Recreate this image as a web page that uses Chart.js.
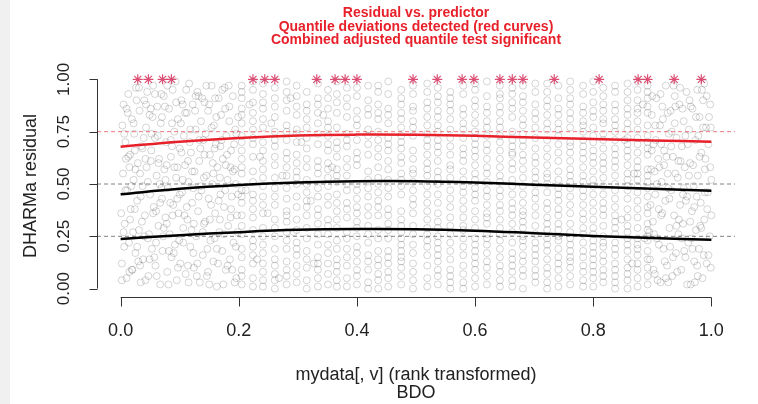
<!DOCTYPE html>
<html>
<head>
<meta charset="utf-8">
<script src="https://cdn.jsdelivr.net/npm/chart.js@4.4.1/dist/chart.umd.min.js"></script>
<style>
  html, body { margin: 0; padding: 0; }
  body { width: 758px; height: 404px; background: linear-gradient(to right, #f0f0f0 10px, #ffffff 10px); }
  canvas { display: block; }
</style>
</head>
<body>
<canvas id="chart" width="758" height="404"></canvas>
<script>
// tick labels
const xTicks = [0, 0.2, 0.4, 0.6, 0.8, 1.0];
const xTickLabels = ['0.0', '0.2', '0.4', '0.6', '0.8', '1.0'];
const yTicks = [0, 0.25, 0.5, 0.75, 1.0];
const yTickLabels = ['0.00', '0.25', '0.50', '0.75', '1.00'];

// fitted quantile curves
const curveX = [0, 0.1, 0.2, 0.3, 0.4, 0.5, 0.6, 0.7, 0.8, 0.9, 1.0];
const q25 = [0.237, 0.255, 0.270, 0.281, 0.285, 0.284, 0.277, 0.265, 0.252, 0.242, 0.233];
const q50 = [0.451, 0.477, 0.495, 0.507, 0.513, 0.513, 0.507, 0.497, 0.487, 0.477, 0.468];
const q75 = [0.678, 0.702, 0.720, 0.732, 0.736, 0.735, 0.730, 0.722, 0.715, 0.708, 0.702];
const refLines = [0.25, 0.5, 0.75];

// outliers (red stars at residual = 1)
const outlierX = [0.029, 0.047, 0.071, 0.086, 0.224, 0.244, 0.261, 0.332, 0.363, 0.380, 0.400,
  0.495, 0.536, 0.578, 0.598, 0.642, 0.663, 0.681, 0.734, 0.810, 0.876, 0.892, 0.937, 0.983];

// residual cloud, predictor in thousandths, residual in hundredths
const leftCloud = [[2,12],[4,55],[5,88],[7,31],[8,70],[10,5],[11,47],[13,93],[14,22],[16,64],[17,38],[19,81],[20,9],[22,52],[23,74],[25,17],[26,96],[28,42],[29,60],[31,28],[32,85],[34,3],[35,68],[37,49],[38,14],[40,90],[41,35],[43,77],[44,58],[46,24],[47,6],[49,83],[50,45],[52,66],[53,19],[55,97],[56,39],[58,72],[59,11],[61,54],[62,87],[64,30],[65,62],[67,2],[68,79],[70,43],[71,18],[73,92],[74,57],[76,34],[77,70],[79,8],[80,48],[82,86],[83,26],[85,63],[86,15],[88,95],[89,40],[91,75],[92,21],[94,53],[95,4],[97,81],[98,36],[100,67],[101,12],[103,90],[104,46],[106,29],[107,73],[109,59],[110,7],[112,84],[113,33],[115,51],[116,98],[118,20],[119,65],[121,41],[122,88],[124,10],[125,56],[127,76],[128,25],[130,94],[131,37],[133,61],[134,3],[136,80],[137,47],[139,16],[140,71],[142,89],[143,32],[145,54],[146,6],[148,85],[149,43],[151,64],[152,23],[154,97],[155,50],[157,13],[158,78],[160,36],[161,69],[163,1],[164,58],[166,91],[167,27],[169,45],[170,83],[172,18],[173,62],[175,39],[176,96],[178,9],[179,73],[181,52],[182,30],[184,87],[185,14],[187,66],[188,44],[190,92],[191,22],[193,57],[194,76],[196,5],[197,35],[199,82],
  [1,36],[3,78],[6,20],[9,62],[12,84],[15,8],[18,49],[21,27],[24,66],[27,90],[30,13],[33,55],[36,32],[39,72],[42,4],[45,94],[48,26],[51,61],[54,82],[57,15],[60,37],[63,73],[66,50],[69,93],[72,25],[75,87],[78,59],[81,2],[84,41],[87,68],[90,17],[93,99],[96,58],[99,23],[102,79],[105,52],[108,35],[111,95],[114,11],[117,70],[120,28],[123,48],[126,85],[129,6],[132,44],[135,67],[138,91],[141,31],[144,74],[147,19],[150,88],[153,40],[156,60],[159,24],[162,82],[165,12],[168,53],[171,71],[174,2],[177,47],[180,64],[183,97],[186,34],[189,9],[192,69],[195,50],[198,27],
  [2,4],[5,27],[8,47],[10,86],[13,63],[16,33],[19,9],[22,79],[25,57],[28,20],[31,96],[34,44],[37,67],[40,25],[43,88],[46,51],[49,14],[52,74],[55,36],[58,93],[61,6],[64,60],[67,41],[70,82],[73,29],[76,52],[79,97],[82,18],[85,71],[88,35],[91,58],[94,89],[97,10],[100,45],[103,65],[106,22],[109,84],[112,39],[115,3],[118,76],[121,56],[124,31],[127,92],[130,12],[133,71],[136,49],[139,27],[142,64],[145,97],[148,8],[151,33],[154,77],[157,55],[160,91],[163,19],[166,42],[169,68],[172,95],[175,26],[178,59],[181,11],[184,80],[187,38],[190,56],[193,3],[196,74],[199,45],
  [6,74],[15,58],[24,38],[33,11],[42,62],[51,86],[60,22],[69,48],[78,31],[87,79],[96,43],[105,88],[114,61],[123,17],[132,92],[141,53],[150,2],[159,67],[168,33],[177,86],[186,58],[195,20],
  [212,47],[218,88],[231,14],[236,63],[249,36],[255,79],[268,5],[274,54],[288,91],[293,27],[306,70],[322,42],[327,12],[343,83],[358,58]];

const rightCloud = [[896,14],[898,57],[899,83],[901,32],[902,69],[904,7],[905,45],[907,91],[908,24],[910,62],[911,38],[913,78],[914,3],[916,51],[917,87],[919,19],[920,66],[922,42],[923,97],[925,11],[926,55],[928,74],[929,29],[931,85],[932,47],[934,6],[935,63],[937,35],[938,92],[940,17],[941,72],[943,53],[944,26],[946,88],[947,40],[949,9],[950,68],[952,31],[953,80],[955,58],[956,15],[958,94],[959,44],[961,22],[962,76],[964,60],[965,2],[967,37],[968,86],[970,49],[971,13],[973,71],[974,28],[976,95],[977,54],[979,19],[980,82],[982,41],[983,65],[985,5],[986,90],[988,33],[989,57],[991,77],[992,12],[994,46],[995,69],[997,25],[998,88],[1000,52],
  [897,40],[900,92],[903,26],[906,71],[909,4],[912,58],[915,35],[918,81],[921,13],[924,63],[927,48],[930,20],[933,75],[936,97],[939,55],[942,8],[945,33],[948,61],[951,86],[954,18],[957,42],[960,69],[963,90],[966,24],[969,59],[972,3],[975,44],[978,73],[981,30],[984,95],[987,16],[990,62],[993,38],[996,82],[999,10],
  [895,27],[899,66],[902,9],[905,78],[908,50],[911,21],[914,93],[917,36],[920,59],[923,5],[926,84],[929,43],[932,68],[935,15],[938,79],[941,30],[944,61],[947,96],[950,24],[953,48],[956,73],[959,2],[962,54],[965,87],[968,19],[971,39],[974,82],[977,6],[980,63],[983,29],[986,77],[989,46],[992,92],[995,16],[998,58],[1000,35],[904,56],[915,69],[927,3],[939,87],[952,45],[964,32],[976,11],[988,98],[999,77],
  [848,33],[853,71],[866,12],[869,55],[884,88],[887,24]];

// tied predictor values form vertical stripes in the middle
const stripeX = [0.205, 0.224, 0.241, 0.261, 0.281, 0.298, 0.315, 0.334, 0.351, 0.366, 0.383, 0.400,
  0.419, 0.436, 0.453, 0.475, 0.495, 0.519, 0.537, 0.558, 0.580, 0.600, 0.620, 0.642, 0.663, 0.681,
  0.702, 0.722, 0.741, 0.761, 0.783, 0.800, 0.817, 0.837, 0.858, 0.875, 0.892];
const stripeY = [
  [2,9,15,26,30,41,47,55,58,66,73,79,86,91,97, 6,19,35,44,62,70,83,94],
  [5,12,20,23,34,38,45,51,63,69,72,80,84,95, 1,16,28,42,56,76,89,99],
  [1,8,17,21,29,36,44,49,57,61,70,77,89,93,98, 4,12,25,40,53,66,81,86],
  [4,11,14,25,33,40,48,53,59,68,75,82,87,96, 0,7,19,29,44,63,71,91],
  [6,13,19,27,32,37,43,54,62,65,71,78,85,90,99, 2,9,23,35,48,58,75,94],
  [3,7,16,22,28,39,50,56,64,74,76,83,92,97, 11,19,33,44,53,60,70,87],
  [0,10,18,24,35,42,46,52,58,67,72,81,88,94, 4,14,29,39,50,62,77,85],
  [5,9,15,21,31,38,44,55,61,69,79,84,91,98, 1,12,26,35,48,58,74,88],
  [2,12,17,26,33,40,49,53,60,66,73,80,86,95, 7,21,30,44,57,69,77,91],
  [4,8,14,23,29,37,45,51,57,63,70,77,89,93,99, 1,11,19,33,41,54,67,84],
  [1,11,19,27,34,41,47,54,62,68,74,82,87,96, 5,15,24,38,50,58,71,91],
  [6,13,20,25,32,36,43,50,59,65,71,78,85,92, 2,9,17,29,39,47,62,81,96],
  [3,9,16,22,30,39,48,56,64,69,76,83,90,97, 0,13,26,35,44,52,73,86],
  [0,7,14,28,35,42,46,53,58,67,75,81,88,94, 4,11,18,24,39,50,63,71,84,97],
  [5,12,18,24,31,38,44,52,61,66,72,79,86,99, 1,8,15,28,35,48,57,69,83,93],
  [2,10,15,21,27,33,49,55,63,70,77,84,91,95, 6,13,18,24,30,37,45,52,60,67,73,81,88],
  [4,8,17,26,36,40,47,51,57,62,73,80,87,93, 0,12,21,30,43,55,66,77,85,97],
  [1,11,20,23,29,37,45,54,60,68,74,82,89,98, 5,16,26,33,41,49,57,64,71,78,86,94],
  [6,13,19,25,32,41,50,56,65,71,78,85,92,96, 2,9,16,22,29,36,45,53,61,68,75,82,89],
  [3,9,14,22,34,39,43,53,59,64,76,81,88,94, 0,6,18,26,30,47,57,68,72,85,91],
  [0,7,16,28,30,38,46,52,61,67,72,79,86,97, 3,11,20,24,34,42,49,56,64,76,83,93],
  [5,12,18,24,33,42,48,55,63,69,75,83,90,95, 1,9,15,21,29,37,45,52,59,66,72,79,87,98],
  [2,10,21,26,31,36,44,51,58,66,73,80,87,99, 6,13,17,24,34,40,47,55,62,69,77,84,92],
  [4,8,15,23,29,40,47,54,62,70,77,84,91,93, 1,11,19,26,33,37,44,51,58,66,73,80,87,97],
  [1,11,17,27,35,41,49,57,60,65,71,82,89,96, 4,8,14,22,31,38,45,52,64,68,75,86,93],
  [6,13,20,25,32,37,45,53,64,68,74,78,85,92, 0,9,16,23,29,35,41,49,57,61,71,81,89,97],
  [3,9,16,22,30,39,43,50,56,63,72,81,88,98, 6,13,19,26,35,46,53,60,67,77,84,94],
  [0,7,14,24,34,38,46,55,59,67,76,83,90,94, 3,10,18,21,28,31,41,50,53,63,71,79,87,98],
  [5,12,19,28,31,42,48,52,61,69,73,79,86,97, 1,9,15,23,25,35,38,45,56,65,76,83,91],
  [2,10,18,21,27,36,44,51,57,65,70,84,91,95, 6,13,15,24,31,40,48,54,61,68,77,81,88,99],
  [4,8,15,26,33,40,47,54,62,68,75,80,87,93, 1,11,18,22,29,36,44,51,58,65,71,78,84,97],
  [1,11,17,23,29,37,49,56,60,66,77,82,89,99, 5,8,14,20,26,33,41,45,52,63,70,73,85,94],
  [6,13,20,25,35,41,45,53,63,71,74,85,92,96, 3,9,16,22,30,38,49,57,60,67,79,81,88],
  [3,9,16,22,32,39,50,58,64,67,78,81,88,94, 0,6,12,19,26,29,35,43,47,54,61,71,75,85,97],
  [0,7,14,27,30,38,43,52,59,69,72,83,90,98, 4,10,18,21,24,34,47,49,55,63,66,76,79,86,94],
  [5,12,19,24,34,42,46,55,61,65,76,80,86,95, 1,9,16,21,29,38,49,52,58,69,72,84,90,99],
  [2,10,18,28,31,36,48,51,57,70,73,84,91,97, 6,14,23,25,39,44,54,64,67,78,87,94]
];

const RED = '#e8202a';
const FONT = '"Liberation Sans", Arial, sans-serif';

const cloud = [];
leftCloud.concat(rightCloud).forEach(p => cloud.push({ x: p[0] / 1000, y: p[1] / 100 }));
stripeX.forEach((sx, i) => stripeY[i].forEach(v => cloud.push({ x: sx, y: v / 100 })));

const toPts = (xs, ys) => xs.map((x, i) => ({ x: x, y: ys[i] }));

const datasets = [
  {
    data: cloud, showLine: false, order: 9,
    pointStyle: 'circle', pointRadius: 3.5, borderWidth: 1,
    pointBorderColor: 'rgba(0,0,0,0.17)', pointBackgroundColor: 'rgba(0,0,0,0)'
  }
];
refLines.forEach(v => datasets.push({
  data: [{ x: -0.04, y: v }, { x: 1.04, y: v }], showLine: true, order: 6,
  borderColor: v === 0.75 ? 'rgba(232,32,42,0.6)' : 'rgba(90,90,90,0.75)',
  borderWidth: 1, borderDash: [4, 3], pointRadius: 0
}));
[[q25, '#000000'], [q50, '#000000'], [q75, RED]].forEach(c => datasets.push({
  data: toPts(curveX, c[0]), showLine: true, order: 3,
  borderColor: c[1], borderWidth: 2.5, tension: 0.4, pointRadius: 0
}));
datasets.push({
  data: outlierX.map(x => ({ x: x, y: 1 })), showLine: false, order: 1,
  pointStyle: 'star', pointRadius: 5, borderWidth: 1.2,
  pointBorderColor: 'rgba(214,48,92,0.85)'
});

// R-style axes, tick labels and titles
const rAxes = {
  id: 'rAxes',
  afterDraw(chart) {
    const ctx = chart.ctx;
    const xs = chart.scales.x, ys = chart.scales.y;
    const area = chart.chartArea;
    ctx.save();
    ctx.strokeStyle = '#333';
    ctx.lineWidth = 1;
    ctx.fillStyle = '#222';

    // x axis
    const xa = Math.round(area.bottom) + 0.5;
    ctx.beginPath();
    ctx.moveTo(xs.getPixelForValue(xTicks[0]), xa);
    ctx.lineTo(xs.getPixelForValue(xTicks[xTicks.length - 1]), xa);
    xTicks.forEach(t => {
      const px = Math.round(xs.getPixelForValue(t)) + 0.5;
      ctx.moveTo(px, xa);
      ctx.lineTo(px, xa + 9);
    });
    ctx.stroke();
    ctx.font = '18px ' + FONT;
    ctx.textAlign = 'center';
    ctx.textBaseline = 'alphabetic';
    xTicks.forEach((t, i) => ctx.fillText(xTickLabels[i], xs.getPixelForValue(t), 336));

    // y axis
    const ya = Math.round(area.left) + 0.5;
    ctx.beginPath();
    ctx.moveTo(ya, ys.getPixelForValue(yTicks[0]));
    ctx.lineTo(ya, ys.getPixelForValue(yTicks[yTicks.length - 1]));
    yTicks.forEach(t => {
      const py = Math.round(ys.getPixelForValue(t)) + 0.5;
      ctx.moveTo(ya, py);
      ctx.lineTo(ya - 8, py);
    });
    ctx.stroke();
    ctx.font = '17px ' + FONT;
    ctx.textBaseline = 'middle';
    yTicks.forEach((t, i) => {
      ctx.save();
      ctx.translate(64, ys.getPixelForValue(t));
      ctx.rotate(-Math.PI / 2);
      ctx.fillText(yTickLabels[i], 0, 0);
      ctx.restore();
    });

    // axis titles
    const cx = (area.left + area.right) / 2;
    ctx.font = '18px ' + FONT;
    ctx.textBaseline = 'alphabetic';
    ctx.fillText('mydata[, v] (rank transformed)', cx, 380);
    ctx.fillText('BDO', cx, 398);
    ctx.save();
    ctx.translate(31, 186);
    ctx.rotate(-Math.PI / 2);
    ctx.textBaseline = 'middle';
    ctx.fillText('DHARMa residual', 0, 0);
    ctx.restore();

    // main title
    ctx.fillStyle = RED;
    ctx.font = 'bold 14px ' + FONT;
    ctx.fillText('Residual vs. predictor', cx, 17);
    ctx.fillText('Quantile deviations detected (red curves)', cx, 30.5);
    ctx.fillText('Combined adjusted quantile test significant', cx, 44);
    ctx.restore();
  }
};

new Chart(document.getElementById('chart').getContext('2d'), {
  type: 'scatter',
  data: { datasets: datasets },
  options: {
    responsive: false,
    animation: false,
    layout: { padding: { left: 97, right: 23, top: 71, bottom: 107 } },
    scales: {
      x: { type: 'linear', min: -0.04, max: 1.04, display: false },
      y: { type: 'linear', min: -0.04, max: 1.04, display: false }
    },
    plugins: {
      legend: { display: false },
      tooltip: { enabled: false },
      title: { display: false }
    }
  },
  plugins: [rAxes]
});
</script>
</body>
</html>
